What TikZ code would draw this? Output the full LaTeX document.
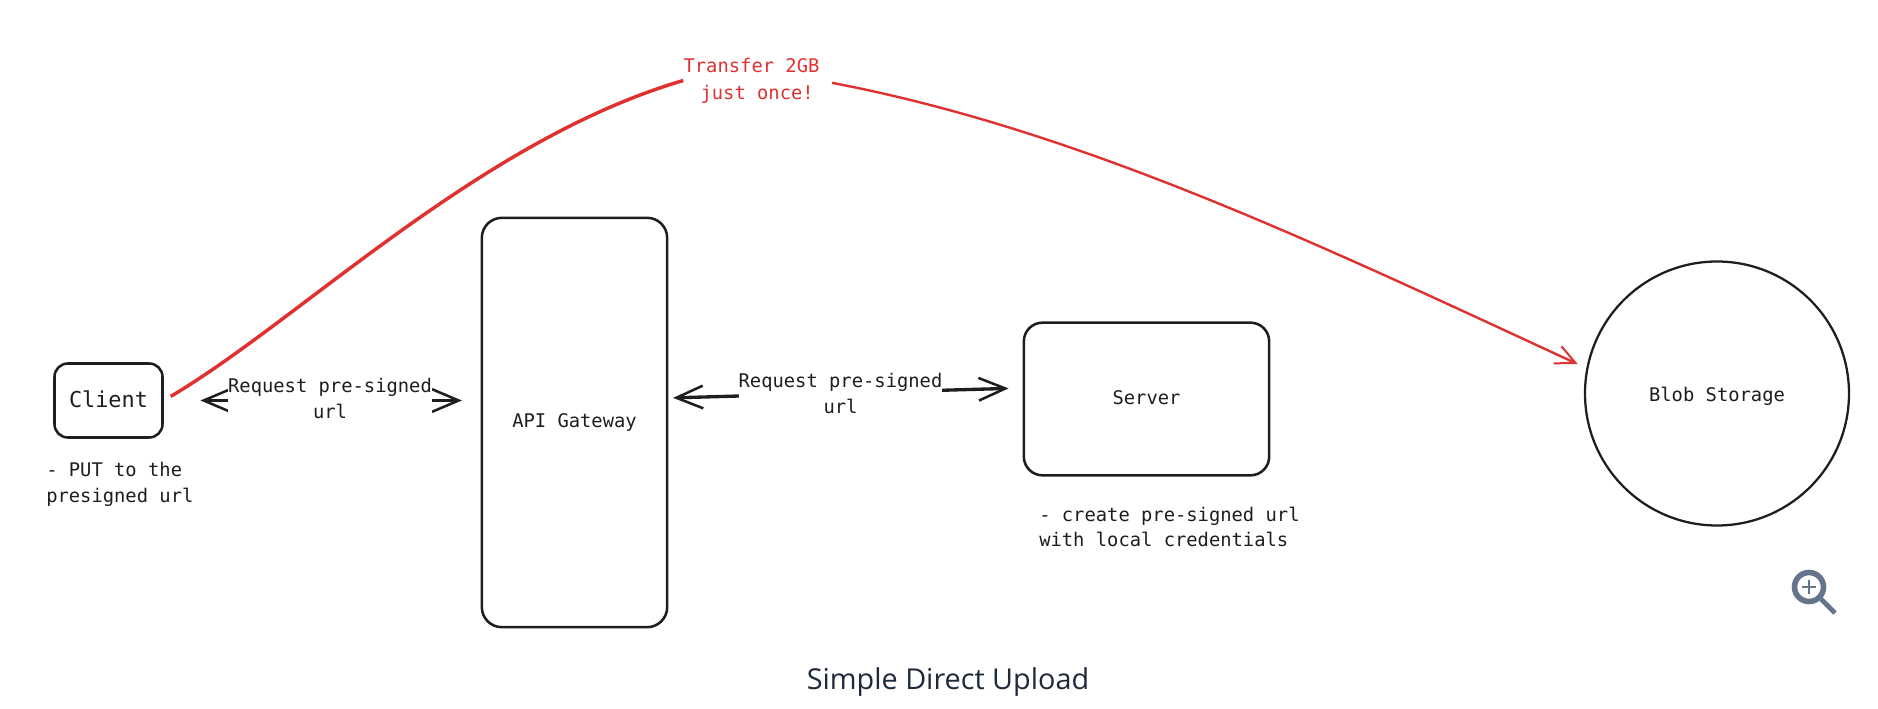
\documentclass[tikz,border=0pt]{standalone}
\usepackage{fontspec}
\setmainfont{DejaVu Sans Mono}
\newfontfamily\titlefont{Open Sans}
\usetikzlibrary{arrows.meta}
\definecolor{ink}{HTML}{1E1E1E}
\definecolor{sketchred}{HTML}{E03131}
\definecolor{titleink}{HTML}{1E293B}
\definecolor{iconink}{HTML}{64748B}
\tikzset{
  hand/.style={font=\fontsize{14.1}{19}\selectfont,text=ink,inner sep=0pt,align=center},
  handleft/.style={hand,align=left,anchor=west},
  sketchbox/.style={draw=ink,line width=1.9pt,fill=white,inner sep=0pt,align=center,font=\fontsize{14.1}{19}\selectfont,text=ink},
  flow/.style={draw=ink,line width=2.5pt,{Straight Barb[length=20pt,width=17pt,line width=1.9pt]}-{Straight Barb[length=20pt,width=17pt,line width=1.9pt]}},
  redflow/.style={draw=sketchred,line width=2pt},
}
\begin{document}
\begin{tikzpicture}[x=0.75pt,y=-0.75pt]
\useasboundingbox (0,0) rectangle (1878,709);
\node[sketchbox,rounded corners=10pt,minimum width=81pt,minimum height=55.5pt,font=\fontsize{16.4}{20}\selectfont] (client) at (108.5,400.5) {\raisebox{0.7pt}[\height][\depth]{Client}};
\node[sketchbox,rounded corners=15pt,minimum width=139pt,minimum height=307pt] (api) at (574.5,422.5) {API Gateway};
\node[sketchbox,rounded corners=14pt,minimum width=184pt,minimum height=114.5pt] (server) at (1146.5,399) {\raisebox{0.8pt}[\height][\depth]{Server}};
\node[sketchbox,circle,line width=1.7pt,minimum size=198pt] (blob) at (1717,393.5) {\raisebox{-1.8pt}[\height][\depth]{Blob Storage}};

\node[hand,text=sketchred] (redlabel) at (751.5,80.5) {Transfer 2GB\\[1pt]\ just once!};
\draw[redflow,line width=2.6pt,shorten <=6pt] (client.east) .. controls (300,320) and (480,140) .. (redlabel.west);
\draw[redflow,line width=1.8pt,shorten <=9.5pt,shorten >=7pt,-{Straight Barb[length=15pt,width=14pt,line width=1.5pt]}] (redlabel.east) .. controls (1080,130) and (1320,245) .. (blob.169);

\draw[flow,shorten <=27.5pt,shorten >=14pt] (client.east) -- (client.east -| api.west);
\node[hand,fill=white] (reqa) at (330,398.5) {Request pre-signed\\url};

\coordinate (apiport) at (api.east |- 0,398);
\coordinate (serverport) at (server.west |- 0,388);
\draw[flow,shorten <=3.5pt,shorten >=10.5pt] (apiport) -- (serverport);
\node[hand,fill=white] (reqb) at (840.5,393.5) {Request pre-signed\\url};

\node[handleft] (clientnote) at (46,484.5) {- PUT to the\\presigned url};
\node[handleft] (servernote) at (1039,527) {- create pre-signed url\\with local credentials};

\node[font=\titlefont\fontsize{21.6}{26}\selectfont,text=titleink,inner sep=0pt] (title) at (948,682) {Simple Direct Upload};

\draw[iconink,line width=4.2pt] (1809,587) circle (14.5);
\draw[iconink,line width=1.6pt] (1802,587) -- (1816,587) (1809,580) -- (1809,594);
\draw[iconink,line width=3.6pt] (1821,599) -- (1835,613);
\end{tikzpicture}
\end{document}
